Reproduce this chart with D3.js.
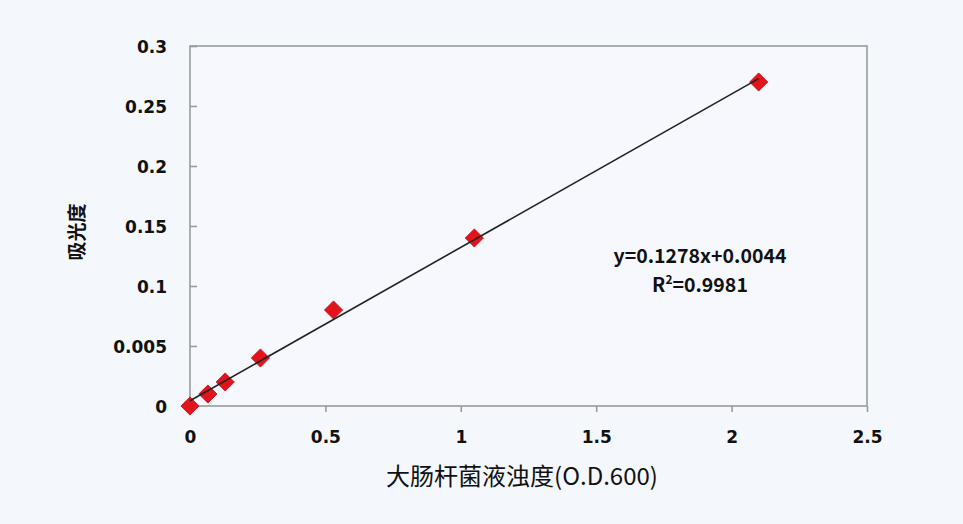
<!DOCTYPE html>
<html><head><meta charset="utf-8">
<script src="https://cdn.jsdelivr.net/npm/d3@7"></script>
<style>html,body{margin:0;padding:0;background:#f4f7fc;}svg{display:block;}</style>
</head><body>
<svg id="c" width="963" height="524"></svg>
<script>
const xValues = [0, 0.066, 0.13, 0.26, 0.53, 1.05, 2.1];
const yValues = [0, 0.01, 0.02, 0.04, 0.08, 0.14, 0.27];
const yTickValues = [0, 0.05, 0.1, 0.15, 0.2, 0.25, 0.3];
const yTickLabels = ["0", "0.005", "0.1", "0.15", "0.2", "0.25", "0.3"];
const xTickValues = [0, 0.5, 1, 1.5, 2, 2.5];
const xTickLabels = ["0", "0.5", "1", "1.5", "2", "2.5"];
const slope = 0.1278, intercept = 0.0044;
const eqLines = ["y=0.1278x+0.0044", "R²=0.9981"];
const xTitle = "大肠杆菌液浊度(O.D.600)";
const yTitle = "吸光度";

const svg = d3.select("#c");
const L = 190, R = 867, T = 46, B = 406;
const x = d3.scaleLinear().domain([0, 2.5]).range([L, R]);
const y = d3.scaleLinear().domain([0, 0.3]).range([B, T]);
const axisColor = "#9a9a9a";
const tickFont = "'DejaVu Sans', sans-serif";

// plot frame
svg.append("rect").attr("x", L).attr("y", T).attr("width", R - L).attr("height", B - T)
  .attr("fill", "#f6f8fd").attr("stroke", axisColor).attr("stroke-width", 1.6);

// y axis (ticks inward)
const yAxis = d3.axisRight(y).tickValues(yTickValues).tickSize(7)
  .tickFormat((d, i) => yTickLabels[i]);
const gy = svg.append("g").attr("transform", `translate(${L},0)`).call(yAxis);
gy.select(".domain").remove();
gy.selectAll(".tick line").attr("stroke", axisColor).attr("stroke-width", 1.6);
gy.selectAll(".tick text").attr("x", -23).attr("text-anchor", "end")
  .attr("font-family", tickFont).attr("font-weight", "bold").attr("font-size", 17)
  .attr("fill", "#111").attr("dy", "0.36em");

// x axis (ticks outward)
const xAxis = d3.axisBottom(x).tickValues(xTickValues).tickSize(6)
  .tickFormat((d, i) => xTickLabels[i]);
const gx = svg.append("g").attr("transform", `translate(0,${B})`).call(xAxis);
gx.select(".domain").remove();
gx.selectAll(".tick line").attr("stroke", axisColor).attr("stroke-width", 1.6);
gx.selectAll(".tick text").attr("y", 37).attr("dy", "0")
  .attr("font-family", tickFont).attr("font-weight", "bold").attr("font-size", 17)
  .attr("fill", "#111");

// markers
const data = xValues.map((v, i) => ({x: v, y: yValues[i]}));
svg.append("g").selectAll("path").data(data).join("path")
  .attr("d", d3.symbol(d3.symbolSquare, 165)())
  .attr("transform", d => `translate(${x(d.x)},${y(d.y)}) rotate(45)`)
  .attr("fill", "#e3131b").attr("stroke", "#c40f16").attr("stroke-width", 0.8);

// trend line
const x0 = d3.min(xValues), x1 = d3.max(xValues);
svg.append("line")
  .attr("x1", x(x0)).attr("y1", y(slope * x0 + intercept))
  .attr("x2", x(x1)).attr("y2", y(slope * x1 + intercept))
  .attr("stroke", "#222").attr("stroke-width", 1.6);

// equation
const eq = svg.append("g").attr("font-family", "'Noto Sans CJK SC', 'Noto Sans', sans-serif")
  .attr("font-weight", "bold").attr("font-size", 19.5).attr("fill", "#111").attr("text-anchor", "middle");
eq.append("text").attr("x", 700).attr("y", 263).text(eqLines[0]);
const t2 = eq.append("text").attr("x", 700).attr("y", 292);
t2.append("tspan").text("R");
t2.append("tspan").attr("font-size", 12).attr("dy", -8).text("2");
t2.append("tspan").attr("dy", 8).text("=0.9981");

// axis titles
svg.append("text").attr("x", 522).attr("y", 485).attr("text-anchor", "middle")
  .attr("font-family", "'Noto Sans CJK SC', sans-serif").attr("font-size", 24)
  .attr("fill", "#111").text(xTitle);
svg.append("text").attr("transform", "translate(84,232) rotate(-90)").attr("text-anchor", "middle")
  .attr("font-family", "'Noto Sans CJK SC', sans-serif").attr("font-weight", "bold").attr("font-size", 19)
  .attr("fill", "#111").text(yTitle);
</script>
</body></html>
